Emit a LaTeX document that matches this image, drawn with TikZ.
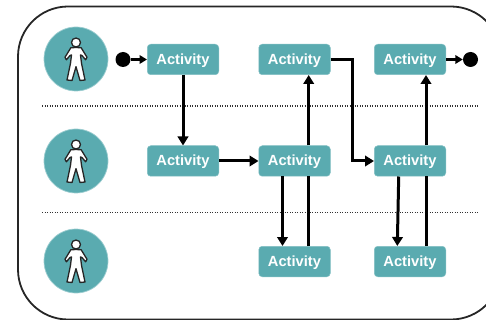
\documentclass[tikz,border=0pt]{standalone}
\usepackage{fontspec}
\setmainfont{Liberation Sans}
\usetikzlibrary{arrows.meta}
\definecolor{teal1}{HTML}{5AABB0}
\tikzset{
  x=1pt,y=-1pt,
  activity/.style={draw=teal1!75!white,line width=0.5pt,fill=teal1,rounded corners=3.5pt,minimum width=71.5pt,minimum height=30.5pt,inner sep=0pt,text=white,text height=13pt,text depth=3pt,font=\fontsize{14.7}{16}\selectfont\bfseries},
  actor/.style={circle,draw=teal1!60!white,line width=0.7pt,fill=teal1,minimum size=64pt,inner sep=0pt},
  dot/.style={circle,fill=black,minimum size=15pt,inner sep=0pt},
  flow/.style={line width=3pt,black,-{Triangle[length=9pt,width=10.5pt]}},
  flowthin/.style={line width=2.2pt,black,-{Triangle[length=7.5pt,width=8.5pt]}},
  plainflow/.style={line width=3pt,black},
  lane/.style={line width=1.5pt,black!80,dash pattern=on 1.3pt off 1.2pt},
  frameline/.style={line width=1.8pt,black!85,rounded corners=50pt},
  person/.pic={
    \draw[fill=white,draw=black!85,line width=1.3pt,line join=round]
      (0,-11.5) -- (5.2,-11.2) -- (11,-1.7) -- (9.6,0.8) -- (6,-3.5) -- (4.5,-4) -- (5.5,4.3) -- (9,21) -- (4,21.5) -- (0,7.7) -- (-4,21.5) -- (-9,21) -- (-5.5,4.3) -- (-4.5,-4) -- (-6,-3.5) -- (-9.6,0.8) -- (-11,-1.7) -- (-5.2,-11.2) -- cycle;
    \draw[fill=white,draw=black!85,line width=1.3pt] (0,-16.5) circle (4.5pt);
  }
}
\begin{document}
\begin{tikzpicture}
\useasboundingbox (0,0) rectangle (486,320);
\clip (0,0) rectangle (486,320);
\fill[white] (0,0) rectangle (486,320);
\draw[frameline] (18,6.5) rectangle (501,319.5);
\draw[lane] (42,106) -- (479,106);
\draw[lane] (42,212.5) -- (479,212.5);

\node[actor] (p1) at (76,59) {};
\node[actor] (p2) at (76,161) {};
\node[actor] (p3) at (76,261) {};
\pic at (p1.center) {person};
\pic at (p2.center) {person};
\pic at (p3.center) {person};

\node[activity] (a1) at (183,59.5) {Activity};
\node[activity] (a2) at (294.5,59.5) {Activity};
\node[activity] (a3) at (410,59.5) {Activity};
\node[activity] (b1) at (183,161) {Activity};
\node[activity] (b2) at (294.5,161) {Activity};
\node[activity] (b3) at (410,161) {Activity};
\node[activity] (c2) at (294.5,261.5) {Activity};
\node[activity] (c3) at (410,261.5) {Activity};

\node[dot] (s) at (123,59.5) {};
\node[dot] (e) at (470.5,59.5) {};

\draw[flowthin] (s) -- (a1);
\draw[flowthin] (a3) -- (e);
\draw[flow] (a1) -- (b1);
\draw[flow] (b1) -- (b2);
\draw[flow] ([xshift=14.2pt]b2.north) -- ([xshift=14.2pt]a2.south);
\draw[flow] ([xshift=16pt]b3.north) -- ([xshift=16pt]a3.south);
\draw[flow] (a2.east) -| (352,161) -- (b3.west);
\draw[flow] ([xshift=-12pt]b2.south) -- ([xshift=-12pt]c2.north);
\draw[plainflow] ([xshift=14.2pt]c2.north) -- ([xshift=14.2pt]b2.south);
\draw[flow] ([xshift=-11.3pt]b3.south) -- ([xshift=-12.7pt]c3.north);
\draw[plainflow] ([xshift=16pt]c3.north) -- ([xshift=16pt]b3.south);
\end{tikzpicture}
\end{document}
